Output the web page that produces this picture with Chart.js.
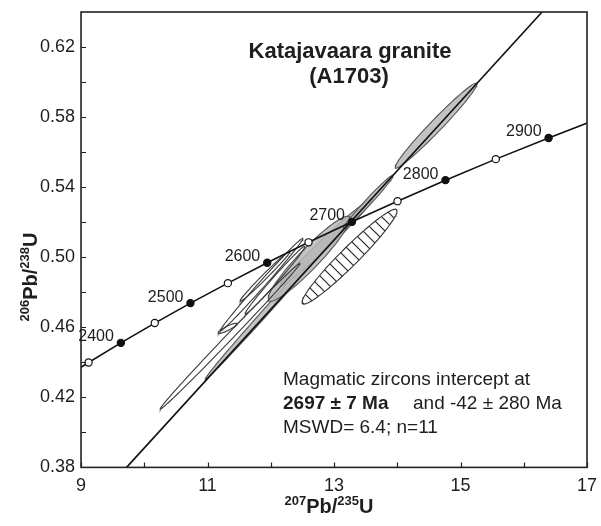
<!DOCTYPE html>
<html>
<head>
<meta charset="utf-8">
<script src="https://cdn.jsdelivr.net/npm/chart.js@4.4.1/dist/chart.umd.min.js"></script>
<style>
html, body { margin: 0; padding: 0; background: #fff; }
</style>
</head>
<body>
<canvas id="chart" width="601" height="526"></canvas>
<script>
// axes
var xMin = 9, xMax = 17, yMin = 0.38, yMax = 0.64
var xTicks = [9, 11, 13, 15, 17]
var xMinor = [10, 12, 14, 16]
var yTicks = [0.38, 0.42, 0.46, 0.50, 0.54, 0.58, 0.62]
var yMinor = [0.40, 0.44, 0.48, 0.52, 0.56, 0.60]

// concordia points (age in Ma, 207Pb/235U, 206Pb/238U)
var concAge = [2300, 2350, 2400, 2450, 2500, 2550, 2600, 2650, 2700, 2750, 2800, 2850, 2900, 2950]
var concX = [8.633, 9.119, 9.630, 10.166, 10.730, 11.322, 11.944, 12.597, 13.284, 14.004, 14.762, 15.558, 16.393, 17.271]
var concY = [0.4287, 0.4399, 0.4511, 0.4624, 0.4738, 0.4852, 0.4968, 0.5085, 0.5202, 0.5320, 0.5440, 0.5560, 0.5681, 0.5803]

// discordia (2697 Ma / -42 Ma intercepts), where it crosses the plot
var discX = [9.72, 16.29]
var discY = [0.38, 0.64]

// zircon analyses: centre, half widths, error correlation
var ellCx  = [14.613, 13.538, 12.605, 12.874, 12.028, 13.245, 11.356, 11.316, 11.854, 12.067, 11.909]
var ellCy  = [0.5751, 0.5314, 0.4991, 0.5083, 0.4731, 0.5003, 0.4549, 0.4594, 0.4843, 0.4869, 0.4891]
var ellSx  = [0.648, 0.395, 0.648, 0.727, 1.067, 0.751, 1.107, 0.150, 0.656, 0.474, 0.395]
var ellSy  = [0.0243, 0.0154, 0.0243, 0.0249, 0.0429, 0.0271, 0.0417, 0.0029, 0.0266, 0.0194, 0.0143]
var ellRho = [0.980, 0.986, 0.94, 0.987, 0.998, 0.963, 0.998, 0.89, 0.995, 0.991, 0.99]
var ellGroup = ['gray', 'gray', 'gray', 'gray', 'gray', 'excluded', 'open', 'open', 'open', 'open', 'open']

var FONT = '"Liberation Sans", Arial, sans-serif'
var INK = '#1e1e1e'

function EllipsePoints(i){
    var pts = []
    var n = 90
    var k = Math.sqrt(1 - ellRho[i] * ellRho[i])
    for(var j = 0; j <= n; j++){
        var t = j / n * Math.PI * 2
        pts.push({
            x: ellCx[i] + ellSx[i] * Math.cos(t),
            y: ellCy[i] + ellSy[i] * (ellRho[i] * Math.cos(t) + k * Math.sin(t))
        })
    }
    return pts
}

function HatchPattern(){
    var c = document.createElement('canvas')
    c.width = 11; c.height = 11
    var g = c.getContext('2d')
    g.strokeStyle = '#2a2a2a'
    g.lineWidth = 1.2
    g.beginPath()
    g.moveTo(-1, -1); g.lineTo(12, 12)
    g.moveTo(-1, 10); g.lineTo(1, 12)
    g.moveTo(10, -1); g.lineTo(12, 1)
    g.stroke()
    return g.createPattern(c, 'repeat')
}

var concPts = concAge.map(function(a, i){ return {x: concX[i], y: concY[i]} })
var discPts = discX.map(function(x, i){ return {x: x, y: discY[i]} })

var datasets = [
    {
        label: 'concordia',
        data: concPts,
        showLine: true,
        borderColor: '#111',
        borderWidth: 1.6,
        pointRadius: 3.6,
        pointBorderWidth: 1.2,
        pointBorderColor: '#111',
        pointBackgroundColor: concAge.map(function(a){ return a % 100 === 0 ? '#111' : '#fff' })
    },
    {
        label: 'discordia',
        data: discPts,
        showLine: true,
        borderColor: '#111',
        borderWidth: 1.6,
        pointRadius: 0
    }
]

// open ellipses on top of the gray ones
var drawOrder = ['open', 'excluded', 'gray']
drawOrder.forEach(function(grp){
    for(var i = 0; i < ellCx.length; i++){
        if(ellGroup[i] !== grp) continue
        var ds = {
            label: 'zircon ' + (i + 1),
            data: EllipsePoints(i),
            showLine: true,
            pointRadius: 0,
            borderWidth: 1.1,
            tension: 0,
            fill: 'shape'
        }
        if(grp === 'gray'){
            ds.backgroundColor = 'rgba(185,185,185,0.85)'
            ds.borderColor = '#555'
        }else if(grp === 'excluded'){
            ds.backgroundColor = HatchPattern()
            ds.borderColor = '#333'
        }else{
            ds.backgroundColor = 'rgba(255,255,255,0)'
            ds.borderColor = '#3a3a3a'
        }
        datasets.push(ds)
    }
})

function DrawSupText(ctx, parts, x, y, big, small, rise){
    var w = 0
    parts.forEach(function(p){
        ctx.font = 'bold ' + (p.sup ? small : big) + 'px ' + FONT
        p.w = ctx.measureText(p.t).width
        w += p.w
    })
    var cx = x - w / 2
    parts.forEach(function(p){
        ctx.font = 'bold ' + (p.sup ? small : big) + 'px ' + FONT
        ctx.fillText(p.t, cx, p.sup ? y - rise : y)
        cx += p.w
    })
}

var decorations = {
    id: 'decorations',
    afterDatasetsDraw: function(chart){
        var ctx = chart.ctx
        var a = chart.chartArea
        var xs = chart.scales.x, ys = chart.scales.y
        ctx.save()

        // frame
        ctx.strokeStyle = '#222'
        ctx.lineWidth = 1.6
        ctx.strokeRect(a.left, a.top, a.right - a.left, a.bottom - a.top)

        // inward ticks
        ctx.lineWidth = 1.2
        ctx.beginPath()
        xTicks.concat(xMinor).forEach(function(v){
            var px = Math.round(xs.getPixelForValue(v)) + 0.5
            ctx.moveTo(px, a.bottom); ctx.lineTo(px, a.bottom - 5)
        })
        yTicks.concat(yMinor).forEach(function(v){
            var py = Math.round(ys.getPixelForValue(v)) + 0.5
            ctx.moveTo(a.left, py); ctx.lineTo(a.left + 5, py)
        })
        ctx.stroke()

        // concordia age labels
        ctx.fillStyle = INK
        ctx.font = '16px ' + FONT
        ctx.textAlign = 'right'
        ctx.textBaseline = 'middle'
        concAge.forEach(function(age, i){
            if(age % 100 !== 0 || concX[i] < xMin || concX[i] > xMax) return
            var px = xs.getPixelForValue(concX[i])
            var py = ys.getPixelForValue(concY[i])
            ctx.fillText(String(age), px - 7, py - 6)
        })

        // title
        ctx.textAlign = 'center'
        ctx.textBaseline = 'alphabetic'
        ctx.font = 'bold 22px ' + FONT
        ctx.fillText('Katajavaara granite', 350, 58)
        ctx.fillText('(A1703)', 349, 83)

        // result text
        ctx.textAlign = 'left'
        ctx.font = '19px ' + FONT
        ctx.fillText('Magmatic zircons intercept at', 283, 385)
        ctx.font = 'bold 19px ' + FONT
        ctx.fillText('2697 \u00b1 7 Ma', 283, 409)
        ctx.font = '19px ' + FONT
        ctx.fillText('and -42 \u00b1 280 Ma', 413, 409)
        ctx.fillText('MSWD= 6.4; n=11', 283, 433)

        // axis titles
        DrawSupText(ctx, [{t: '207', sup: true}, {t: 'Pb/'}, {t: '235', sup: true}, {t: 'U'}], 329, 513, 20, 13, 8)
        ctx.save()
        ctx.translate(37, 277)
        ctx.rotate(-Math.PI / 2)
        DrawSupText(ctx, [{t: '206', sup: true}, {t: 'Pb/'}, {t: '238', sup: true}, {t: 'U'}], 0, 0, 20, 13, 8)
        ctx.restore()

        ctx.restore()
    }
}

var chart = new Chart(document.getElementById('chart').getContext('2d'), {
    type: 'scatter',
    data: { datasets: datasets },
    options: {
        responsive: false,
        animation: false,
        devicePixelRatio: 1,
        layout: { padding: { left: 34, right: 14, top: 12, bottom: 21 } },
        plugins: {
            legend: { display: false },
            tooltip: { enabled: false }
        },
        scales: {
            x: {
                type: 'linear',
                min: xMin,
                max: xMax,
                afterBuildTicks: function(s){ s.ticks = xTicks.map(function(v){ return {value: v} }) },
                afterFit: function(s){ s.paddingLeft = 0; s.paddingRight = 0 },
                grid: { display: false, drawTicks: false },
                border: { display: false },
                ticks: {
                    padding: 8,
                    color: INK,
                    font: { family: FONT, size: 18 },
                    callback: function(v){ return String(v) }
                }
            },
            y: {
                type: 'linear',
                min: yMin,
                max: yMax,
                afterBuildTicks: function(s){ s.ticks = yTicks.map(function(v){ return {value: v} }) },
                afterFit: function(s){ s.paddingTop = 0; s.paddingBottom = 0 },
                grid: { display: false, drawTicks: false },
                border: { display: false },
                ticks: {
                    padding: 6,
                    color: INK,
                    font: { family: FONT, size: 18 },
                    callback: function(v){ return Number(v).toFixed(2) }
                }
            }
        }
    },
    plugins: [decorations]
})
</script>
</body>
</html>
